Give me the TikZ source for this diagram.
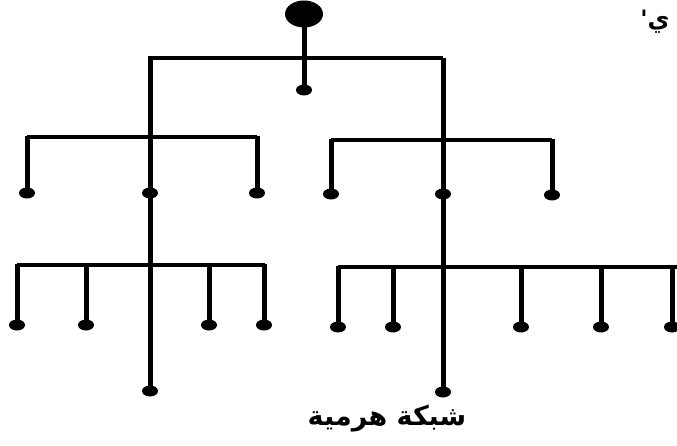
\documentclass[tikz,border=0pt]{standalone}
\usepackage{fontspec}
\newfontfamily\arabicfont[Script=Arabic]{DejaVu Sans}
\TeXXeTstate=1
\usetikzlibrary{shapes.geometric}
\begin{document}
\begin{tikzpicture}[x=1pt,y=-1pt,
  dot/.style={ellipse,fill=black,inner sep=0pt,minimum width=16pt,minimum height=11pt},
  rootdot/.style={ellipse,fill=black,inner sep=0pt,minimum width=38pt,minimum height=27pt},
  vline/.style={line width=5pt},
  hline/.style={line width=3.5pt},
  lbl/.style={font=\fontsize{27}{30}\selectfont\arabicfont\bfseries,inner sep=0pt}]
\useasboundingbox (0,0) rectangle (677,446);
% nodes
\node[rootdot] (root) at (304,14) {};
\node[dot] (hub) at (304,90) {};
\coordinate (barL) at (148,58);
\coordinate (barR) at (443,58);
% left trunk
\node[dot] (l2c) at (150,193) {};
\node[dot] (l2a) at (27,193) {};
\node[dot] (l2b) at (257,193) {};
\node[dot] (l3a) at (17,325) {};
\node[dot] (l3b) at (86,325) {};
\node[dot] (l3c) at (209,325) {};
\node[dot] (l3d) at (264,325) {};
\node[dot] (lbot) at (150,391) {};
% right trunk
\node[dot] (r2c) at (443,194) {};
\node[dot] (r2a) at (331,194) {};
\node[dot] (r2b) at (552,195) {};
\node[dot] (r3a) at (338,327) {};
\node[dot] (r3b) at (393,327) {};
\node[dot] (r3c) at (521,327) {};
\node[dot] (r3d) at (601,327) {};
\node[dot] (r3e) at (672,327) {};
\node[dot] (rbot) at (443,392) {};
% root connectors
\draw[vline] (root.center) -- (hub.center);
\draw[hline] (barL) -- (barR);
% trunks
\draw[vline] (150,58) -- (l2c.center) -- (lbot.center);
\draw[vline] (barR) -- (r2c.center) -- (rbot.center);
% level 2 left
\draw[hline] (27,137) -- (257,137);
\draw[vline] (l2a.center |- 0,136) -- (l2a.center);
\draw[vline] (l2b.center |- 0,136) -- (l2b.center);
% level 2 right
\draw[hline] (331,140) -- (552,140);
\draw[vline] (r2a.center |- 0,139) -- (r2a.center);
\draw[vline] (r2b.center |- 0,139) -- (r2b.center);
% level 3 left
\draw[hline] (17,265) -- (265,265);
\foreach \n in {l3a,l3b,l3c,l3d} \draw[vline] (\n.center |- 0,264) -- (\n.center);
% level 3 right
\draw[hline] (338,267) -- (677,267);
\foreach \n in {r3a,r3b,r3c,r3d,r3e} \draw[vline] (\n.center |- 0,266) -- (\n.center);
% labels
\node[lbl] (title) at (387,419) {\beginR شبكة هرمية\endR};
\node[lbl,font=\fontsize{24}{28}\selectfont\arabicfont\bfseries] (corner) at (655,22) {ي'};
\end{tikzpicture}
\end{document}
